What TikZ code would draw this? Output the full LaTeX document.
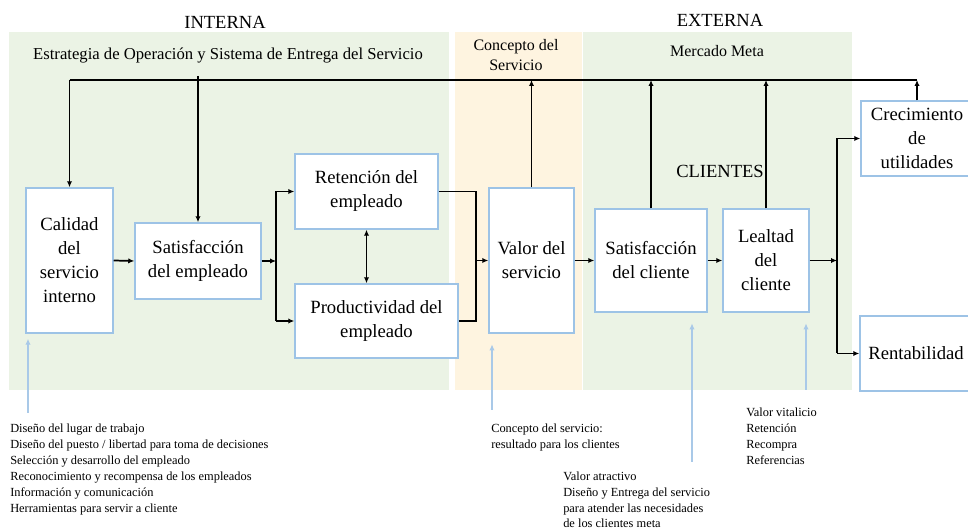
\documentclass[tikz,border=0pt]{standalone}
\usepackage{fontspec}
\setmainfont{Liberation Serif}
\usetikzlibrary{arrows.meta}
\definecolor{bgG}{HTML}{EBF3E5}
\definecolor{bgO}{HTML}{FEF4E0}
\definecolor{boxB}{HTML}{9DC3E6}
\definecolor{noteB}{HTML}{A9C9E8}
\tikzset{
 box/.style={draw=boxB, line width=1.1pt, fill=white, inner sep=0pt, align=center, font=\fontsize{14}{18}\selectfont},
 sz/.style 2 args={minimum width={#1*0.75pt}, minimum height={#2*0.75pt}},
 flow/.style={draw=black, line width=1.3pt, -{Latex[length=4.5pt,width=4pt]}},
 twoway/.style={draw=black, line width=1.3pt, {Latex[length=4.5pt,width=4pt]}-{Latex[length=4.5pt,width=4pt]}},
 plain/.style={draw=black, line width=1.3pt},
 note/.style={draw=noteB, line width=0.8pt, -{Latex[length=4.5pt,width=4pt]}},
 lbl/.style={inner sep=0pt, align=left, anchor=north west, font=\fontsize{9.3}{12}\selectfont},
 head/.style={inner sep=0pt, align=center, font=\fontsize{13.9}{16}\selectfont},
 sub/.style={inner sep=0pt, align=center, font=\fontsize{12}{15}\selectfont},
}
\begin{document}
\begin{tikzpicture}[x=0.75pt,y=-0.75pt]
\useasboundingbox (0,0) rectangle (968,530);
% backgrounds
\fill[bgG] (9,32) rectangle (449,390);
\fill[bgO] (455,32) rectangle (582,390);
\fill[bgG] (583,32) rectangle (852,390);
% headings
\node[head] (hint) at (225,22) {INTERNA};
\node[head] (hext) at (720,20) {EXTERNA};
\node[sub, font=\fontsize{12.5}{15}\selectfont] (estr) at (228,56) {Estrategia de Operación y Sistema de Entrega del Servicio};
\node[sub] (conc) at (516,55) {Concepto del\\Servicio};
\node[sub] (merc) at (717,51) {Mercado Meta};
\node[head] (cli) at (720,171) {CLIENTES};
% boxes
\node[box, sz={87}{145}] (cal) at (69.5,260.5) {Calidad\\del\\servicio\\interno};
\node[box, sz={126}{76}] (satE) at (198,261) {Satisfacción\\del empleado};
\node[box, sz={143}{75}] (ret) at (366.5,191.5) {Retención del\\empleado};
\node[box, sz={163}{74}] (prod) at (376.5,321) {Productividad del\\empleado};
\node[box, sz={85}{145}] (valor) at (531.5,260.5) {Valor del\\servicio};
\node[box, sz={112}{103}] (satC) at (651,260.5) {Satisfacción\\del cliente};
\node[box, sz={86}{103}] (leal) at (766,260.5) {Lealtad\\del\\cliente};
\node[box, sz={112}{75}] (crec) at (917,138.5) {Crecimiento\\de\\utilidades};
\node[box, sz={112}{75}] (rent) at (916,353.5) {Rentabilidad};
% helper coordinates
\coordinate (top) at (0,80);
\coordinate (topS) at (0,76);
\coordinate (j1) at (276,0);
\coordinate (j2) at (476,0);
\coordinate (j3) at (837,0);
% top feedback line
\draw[plain] (cal.north |- top) -- (crec.north |- top);
\draw[flow] (cal.north |- top) -- (cal.north);
\draw[flow] (satE.north |- topS) -- (satE.north);
\draw[flow] (valor.north) -- (valor.north |- top);
\draw[flow] (satC.north) -- (satC.north |- top);
\draw[flow] (leal.north) -- (leal.north |- top);
\draw[flow] (crec.north) -- (crec.north |- top);
% main chain
\draw[flow] (cal.east) -- (satE.west);
\draw[flow] (satE.east) -- (satE.east -| j1);
\draw[plain] (ret.west -| j1) -- (prod.west -| j1);
\draw[flow] (ret.west -| j1) -- (ret.west);
\draw[flow] (prod.west -| j1) -- (prod.west);
\draw[twoway] (ret.south) -- (ret.south |- prod.north);
\draw[plain] (ret.east) -- (ret.east -| j2) -- (prod.east -| j2) -- (prod.east);
\draw[flow] (valor.west -| j2) -- (valor.west);
\draw[flow] (valor.east) -- (satC.west);
\draw[flow] (satC.east) -- (leal.west);
\draw[flow] (leal.east) -- (leal.east -| j3);
\draw[plain] (crec.west -| j3) -- (rent.west -| j3);
\draw[flow] (crec.west -| j3) -- (crec.west);
\draw[flow] (rent.west -| j3) -- (rent.west);
% note arrows
\coordinate (n1) at (28,413);
\coordinate (n2) at (492,410);
\coordinate (n3) at (692,462);
\coordinate (n4) at (806,390);
\draw[note, shorten >=3.75pt] (n1) -- (n1 |- cal.south);
\draw[note, shorten >=8pt] (n2) -- (n2 |- valor.south);
\draw[note, shorten >=8pt] (n3) -- (n3 |- satC.south);
\draw[note, shorten >=8pt] (n4) -- (n4 |- leal.south);
% note texts
\node[lbl] (t1) at (10,424) {Diseño del lugar de trabajo\\Diseño del puesto / libertad para toma de decisiones\\Selección y desarrollo del empleado\\Reconocimiento y recompensa de los empleados\\Información y comunicación\\Herramientas para servir a cliente};
\node[lbl] (t2) at (491,424) {Concepto del servicio:\\resultado para los clientes};
\node[lbl, font=\fontsize{9.3}{11.7}\selectfont] (t3) at (563,472) {Valor atractivo\\Diseño y Entrega del servicio\\para atender las necesidades\\de los clientes meta};
\node[lbl] (t4) at (746,408) {Valor vitalicio\\Retención\\Recompra\\Referencias};
\end{tikzpicture}
\end{document}
